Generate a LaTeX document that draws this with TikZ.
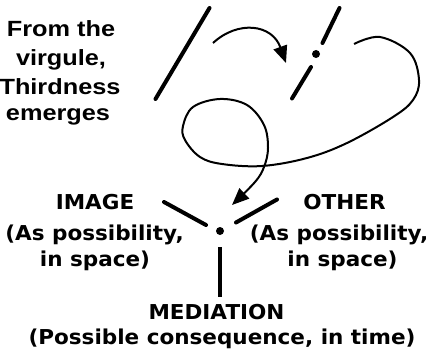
\documentclass[tikz,border=0pt]{standalone}
\usepackage{fontspec}
\setmainfont{DejaVu Sans}
\newfontfamily\headfont{Liberation Sans}
\usetikzlibrary{arrows.meta}
\newcommand{\wide}[1]{\scalebox{1.05}[1]{#1}}
\tikzset{
  heavy/.style={line width=4pt},
  thin/.style={line width=2pt},
  headtxt/.style={inner sep=0pt, anchor=base, font=\headfont\bfseries\fontsize{22}{26}\selectfont},
  lbl/.style={inner sep=0pt, anchor=base, font=\bfseries\fontsize{20.5}{24}\selectfont},
  tip/.style={-{Triangle[length=17pt,width=14pt]}}
}
\begin{document}
\begin{tikzpicture}[x=1pt,y=-1pt]
\useasboundingbox (0,0) rectangle (433,361);
% heading text
\node[headtxt] (h1) at (61,37) {\scalebox{1.15}[1]{From the}};
\node[headtxt] (h2) at (61,65.5) {\scalebox{1.15}[1]{virgule,}};
\node[headtxt] (h3) at (60,94) {\scalebox{1.15}[1]{Thirdness}};
\node[headtxt] (h4) at (58,120) {\scalebox{1.15}[1]{emerges}};
% virgule
\coordinate (s1a) at (155.5,99);
\coordinate (s1b) at (209.5,8);
\draw[heavy, line cap=round] (s1a) -- (s1b);
% split virgule
\coordinate (s2a) at (339.5,8);
\coordinate (s2b) at (322.5,43);
\coordinate (s3a) at (311,67);
\coordinate (s3b) at (292,98.5);
\draw[heavy, line cap=round] (s2a) -- (s2b);
\draw[heavy, line cap=round] (s3a) -- (s3b);
\fill (316,54) circle (4pt);
% first arrow
\coordinate (a1s) at (213,43);
\coordinate (a1e) at (286,63);
\draw[thin, tip] (a1s) .. controls (238,20) and (272,24) .. (a1e);
% loop arrow
\coordinate (cdot) at (220,231);
\draw[thin, tip] plot[smooth, tension=0.6] coordinates {
 (354,44) (380,37) (410,53) (419,80) (413,100) (393,117) (347,143) (307,158)
 (262,166) (222,164) (200,157) (185,140) (183,126) (193,107) (220,99) (247,105)
 (264,125) (268,148) (264,167) (255,182) (232,205)};
% center
\fill (cdot) circle (4pt);
\coordinate (la) at (164,202);
\coordinate (lb) at (206,225);
\coordinate (ra) at (277,199.5);
\coordinate (rb) at (236,222.5);
\coordinate (va) at (220,247);
\coordinate (vb) at (220,297);
\draw[heavy, line cap=round] (la) -- (lb);
\draw[heavy, line cap=round] (ra) -- (rb);
\draw[heavy] (va) -- (vb);
% labels
\node[lbl] (i1) at (95,209) {\wide{IMAGE}};
\node[lbl] (i2) at (94.5,240) {\wide{(As possibility,}};
\node[lbl] (i3) at (95,266) {\wide{in space)}};
\node[lbl] (o1) at (344.5,209) {\wide{OTHER}};
\node[lbl] (o2) at (339,240) {\wide{(As possibility,}};
\node[lbl] (o3) at (342.5,266) {\wide{in space)}};
\node[lbl] (m1) at (216.5,319) {\wide{MEDIATION}};
\node[lbl] (m2) at (222,344) {\wide{(Possible consequence, in time)}};
\end{tikzpicture}
\end{document}
